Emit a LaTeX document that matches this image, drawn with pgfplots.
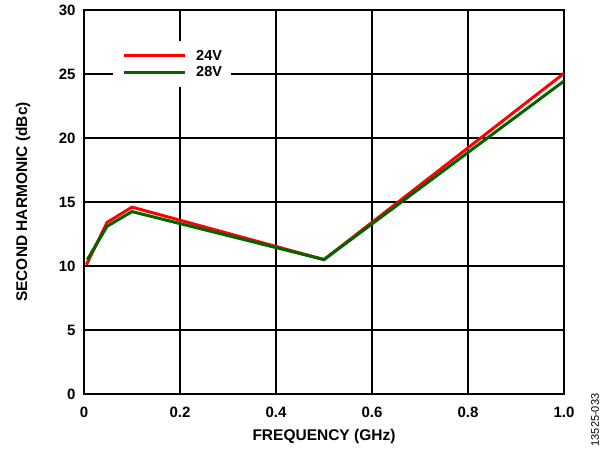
\documentclass[border=0pt]{standalone}
\usepackage{pgfplots}
\pgfplotsset{compat=1.18}
\usepackage{fontspec}
\setmainfont{Liberation Sans}
\definecolor{myred}{RGB}{255,0,0}
\definecolor{mygreen}{RGB}{0,100,0}
\begin{document}
\begin{tikzpicture}
\begin{axis}[
  scale only axis, width=480pt, height=384pt,
  xmin=0, xmax=1, ymin=0, ymax=30,
  xtick={0,0.2,0.4,0.6,0.8,1.0},
  xticklabels={0,0.2,0.4,0.6,0.8,1.0},
  ytick={0,5,10,15,20,25,30},
  grid=major,
  major grid style={black, line width=1.1pt},
  axis line style={black, line width=1.6pt},
  tick style={draw=none},
  ticklabel style={font=\fontsize{15}{18}\selectfont\bfseries},
  /pgf/number format/assume math mode=true,
  xlabel={\fontsize{15.5}{18}\selectfont\bfseries FREQUENCY (GHz)},
  ylabel={\fontsize{15.5}{18}\selectfont\bfseries SECOND HARMONIC (dBc)},
  xlabel style={at={(axis description cs:0.5,0)}, anchor=center, yshift=-42pt},
  ylabel style={at={(axis description cs:0,0.5)}, anchor=center, xshift=0pt, yshift=61pt},
  xticklabel style={anchor=center, yshift=-18pt, xshift=0pt},
  yticklabel style={anchor=east, xshift=-5pt},
  legend style={at={(axis cs:0.0604,27.6)}, anchor=north west, draw=none, fill=white,
    font=\fontsize{14.5}{17}\selectfont\bfseries, nodes={inner sep=0pt},
    row sep=5pt, column sep=10pt, inner xsep=9pt, inner ysep=9pt},
  legend cell align=left,
  legend image code/.code={\draw[#1, line width=3pt] (0pt,0pt) -- (61pt,0pt);},
]
\addplot[myred, line width=3pt] coordinates {
(0.005,10.1) (0.048,13.4) (0.1,14.6) (0.5,10.5) (1.0,25.05)};
\addlegendentry{24V}
\addplot[mygreen, line width=3pt] coordinates {
(0.007,10.5) (0.048,13.1) (0.1,14.25) (0.5,10.5) (1.0,24.45)};
\addlegendentry{28V}
\end{axis}
\node[rotate=90, anchor=center, font=\fontsize{11}{13}\selectfont] at (511pt,-26pt) {13525-033};
\path[use as bounding box] (-84pt,-52pt) rectangle (530pt,394pt);
\end{tikzpicture}
\end{document}
